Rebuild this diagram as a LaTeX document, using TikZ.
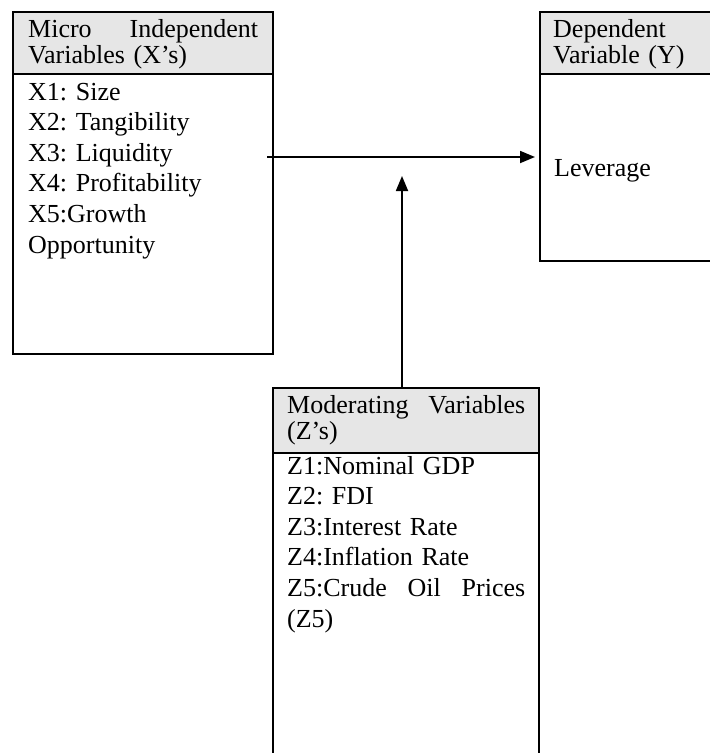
\documentclass[tikz,border=0pt]{standalone}
\usepackage{fontspec}
\setmainfont{Liberation Serif}
\usetikzlibrary{arrows.meta}
\definecolor{headcolour}{HTML}{E6E6E6}
\frenchspacing

\begin{document}
\begin{tikzpicture}[x=1pt,y=-1pt,
  box/.style={draw=black,line width=1.7pt,anchor=north west,inner sep=0pt,outer sep=0pt},
  head/.style={box,fill=headcolour},
  txt/.style={anchor=base west,inner sep=0pt,align=left,font=\fontsize{26}{30.6}\selectfont},
  htxt/.style={txt,font=\fontsize{26}{26.5}\selectfont},
  link/.style={line width=1.8pt,-{Triangle[length=15pt,width=12pt]}}]
\useasboundingbox (0,0) rectangle (710,753);
% Micro Independent Variables
\node[head,minimum width=260pt,minimum height=62pt] (xhead) at (13,12) {};
\node[box,minimum width=260pt,minimum height=280pt] (xbody) at (xhead.south west) {};
\node[htxt,text width=230pt] (xtitle) at (28,37) {Micro\hfill Independent\\Variables (X’s)};
\node[txt,text width=230pt] (xlist) at (28,100) {X1: Size\\X2: Tangibility\\X3: Liquidity\\X4: Profitability\\X5:Growth\\Opportunity};
% Dependent Variable
\node[head,minimum width=175pt,minimum height=62pt] (yhead) at (540,12) {};
\node[box,minimum width=175pt,minimum height=187pt] (ybody) at (yhead.south west) {};
\node[htxt,text width=150pt] (ytitle) at (553,37) {Dependent\\Variable (Y)};
\node[txt] (ylist) at (554,176) {Leverage};
% Moderating Variables
\node[head,minimum width=266pt,minimum height=65pt] (zhead) at (273,388) {};
\node[box,minimum width=266pt,minimum height=310pt] (zbody) at (zhead.south west) {};
\node[htxt,text width=238pt] (ztitle) at (287,413) {Moderating\hfill Variables\\(Z’s)};
\node[txt,text width=238pt] (zlist) at (287,474) {Z1:Nominal GDP\\Z2: FDI\\Z3:Interest Rate\\Z4:Inflation Rate\\Z5:Crude\hfill Oil\hfill Prices\\(Z5)};
% Connect X's to Y, Z's moderating
\coordinate (xout) at (267,157);
\coordinate (zin) at (402,176);
\draw[link,shorten >=5pt] (xout) -- (xout -| ybody.west);
\draw[link] (zin |- zhead.north) -- (zin);
\end{tikzpicture}
\end{document}
